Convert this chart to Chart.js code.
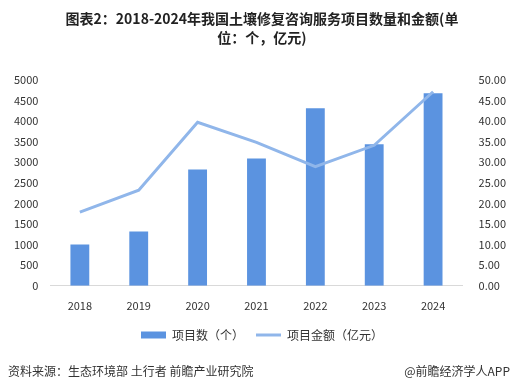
<!DOCTYPE html>
<html>
<head>
<meta charset="utf-8">
<script src="https://cdn.jsdelivr.net/npm/chart.js@4.4.1/dist/chart.umd.min.js"></script>
<style>
  body { margin: 0; background: #fff; }
  #wrap { position: relative; width: 518px; height: 387px; }
  .foot { position: absolute; top: 362px; font-family: "Noto Sans CJK SC", sans-serif; font-size: 12px; color: #333; }
</style>
</head>
<body>
<div id="wrap">
  <canvas id="myChart" width="518" height="387"></canvas>
  <div class="foot" style="left:8px;">资料来源：生态环境部 土行者 前瞻产业研究院</div>
  <div class="foot" style="right:8px;">@前瞻经济学人APP</div>
</div>
<script>
const years = ['2018', '2019', '2020', '2021', '2022', '2023', '2024'];
const projectCount = [1000, 1315, 2825, 3090, 4310, 3435, 4675];
const projectAmount = [17.9, 23.2, 39.7, 34.8, 28.9, 34.1, 47.1];

document.addEventListener('DOMContentLoaded', function() {
    drawChart();
});

function drawChart() {
    const ctx = document.getElementById('myChart');
    const font = "'Noto Sans CJK SC', sans-serif";
    new Chart(ctx, {
        data: {
            labels: years,
            datasets: [{
                type: 'bar',
                label: '项目数（个）',
                data: projectCount,
                backgroundColor: '#5b93e0',
                yAxisID: 'y',
                barPercentage: 0.64,
                categoryPercentage: 0.5,
                order: 2
            }, {
                type: 'line',
                label: '项目金额（亿元）',
                data: projectAmount,
                borderColor: '#90b6ea',
                backgroundColor: '#90b6ea',
                borderWidth: 3,
                pointRadius: 0,
                tension: 0,
                yAxisID: 'y1',
                order: 1
            }]
        },
        options: {
            responsive: false,
            animation: false,
            layout: { padding: { left: 10, right: 4, bottom: 36, top: 0 } },
            plugins: {
                title: {
                    display: true,
                    text: ['图表2：2018-2024年我国土壤修复咨询服务项目数量和金额(单', '位：个，亿元)'],
                    color: '#222',
                    font: { family: font, size: 14, weight: 'bold', lineHeight: 1.35 },
                    padding: { top: 9, bottom: 33 }
                },
                legend: {
                    position: 'bottom',
                    labels: {
                        color: '#333',
                        font: { family: font, size: 12 },
                        usePointStyle: true,
                        pointStyleWidth: 25,
                        boxHeight: 7,
                        padding: 12,
                        sort: function(a, b) { return a.datasetIndex - b.datasetIndex; },
                        generateLabels: function(chart) {
                            const items = Chart.defaults.plugins.legend.labels.generateLabels(chart);
                            items.forEach(function(it) {
                                if (it.datasetIndex === 0) {
                                    it.pointStyle = 'rect';
                                } else {
                                    it.pointStyle = 'line';
                                    it.lineWidth = 3;
                                    it.strokeStyle = '#90b6ea';
                                }
                            });
                            return items;
                        }
                    }
                },
                tooltip: { enabled: false }
            },
            scales: {
                x: {
                    grid: { display: false },
                    border: { display: true, color: '#d9d9d9' },
                    ticks: { color: '#333', font: { family: font, size: 11 }, padding: 5 }
                },
                y: {
                    position: 'left',
                    min: 0,
                    max: 5000,
                    grid: { display: false },
                    border: { display: false },
                    ticks: {
                        stepSize: 500,
                        color: '#333',
                        font: { family: font, size: 11 },
                        padding: 4,
                        callback: function(v) { return String(v); }
                    }
                },
                y1: {
                    position: 'right',
                    min: 0,
                    max: 50,
                    grid: { display: false },
                    border: { display: false },
                    ticks: {
                        stepSize: 5,
                        color: '#333',
                        font: { family: font, size: 11 },
                        padding: 8,
                        callback: function(v) { return v.toFixed(2); }
                    }
                }
            }
        }
    });
}
</script>
</body>
</html>
